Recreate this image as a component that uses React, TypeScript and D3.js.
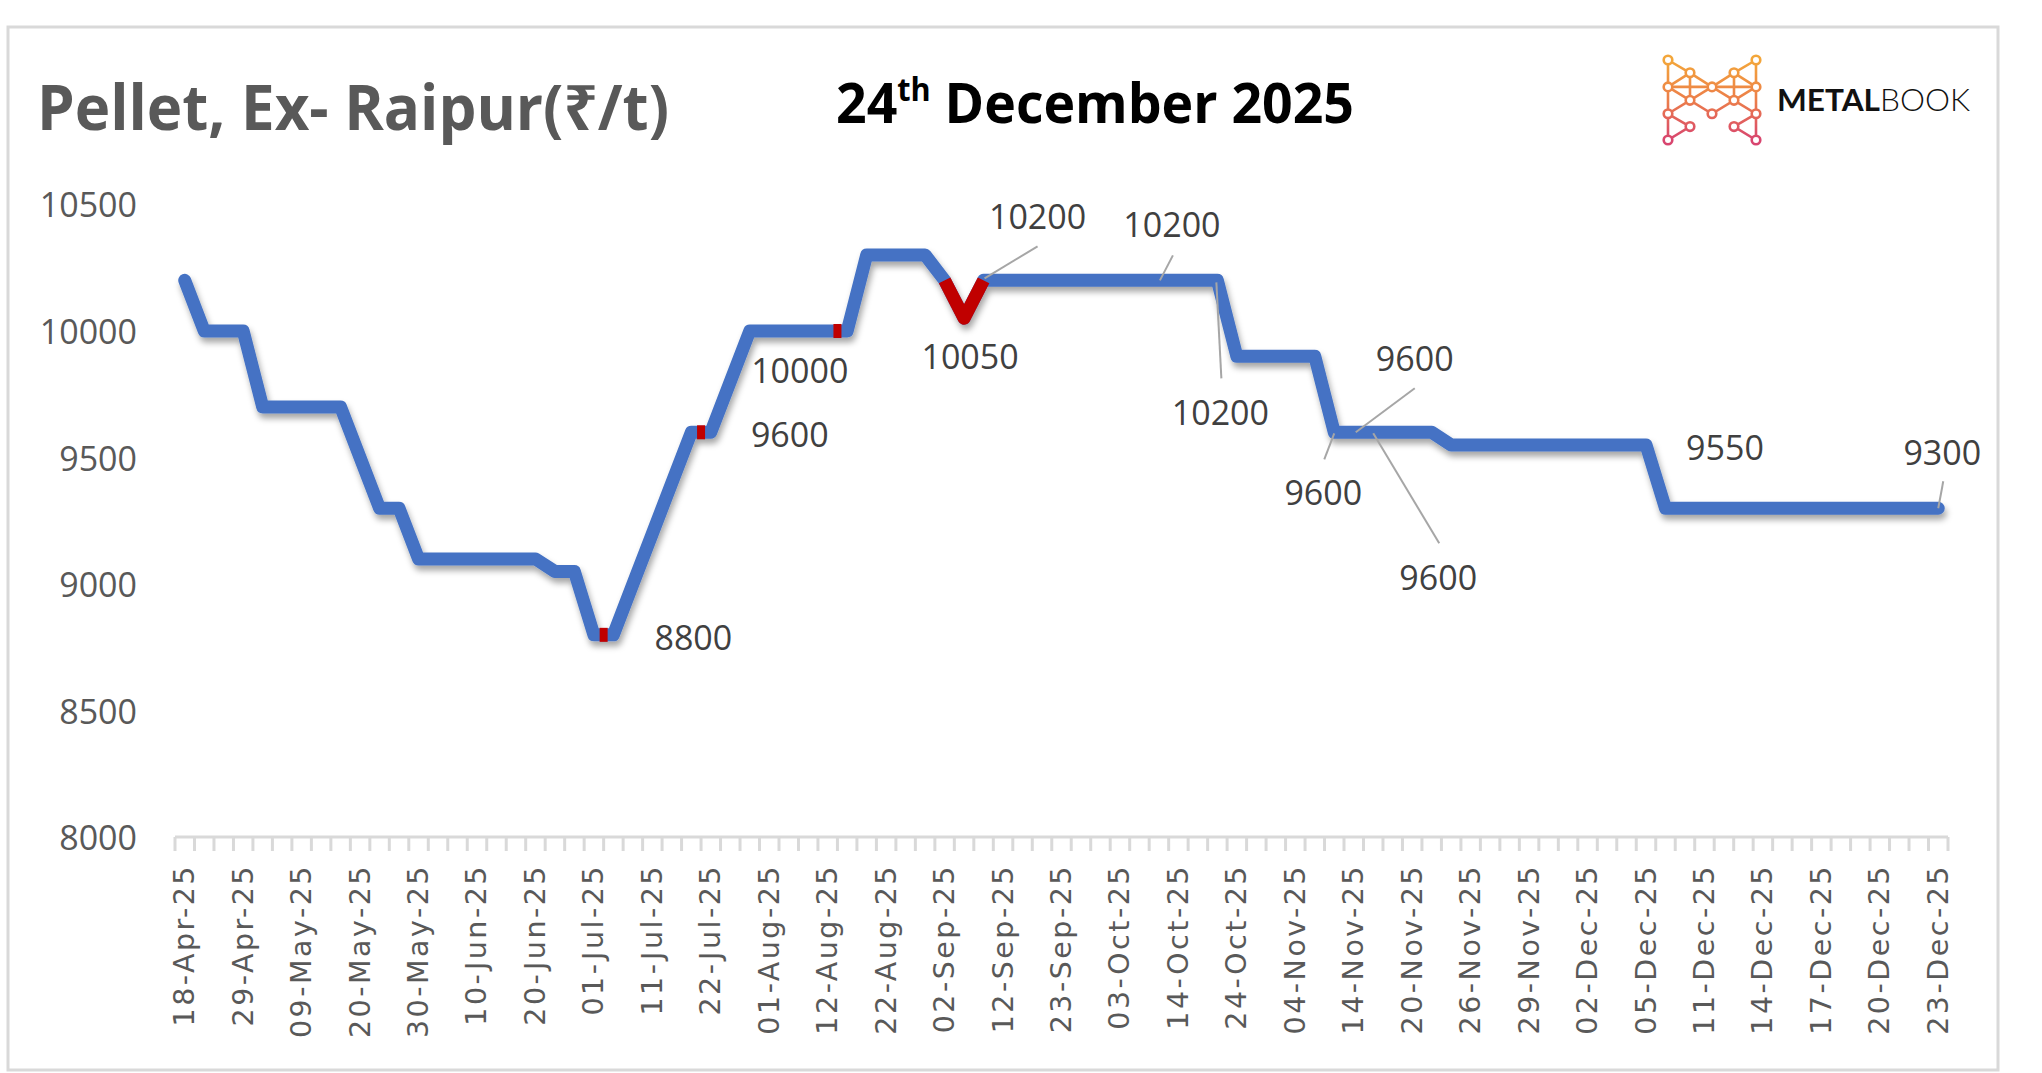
import React from "react";
import * as d3 from "d3";

const tickLabels = [
  "18-Apr-25","29-Apr-25","09-May-25","20-May-25","30-May-25","10-Jun-25","20-Jun-25",
  "01-Jul-25","11-Jul-25","22-Jul-25","01-Aug-25","12-Aug-25","22-Aug-25","02-Sep-25",
  "12-Sep-25","23-Sep-25","03-Oct-25","14-Oct-25","24-Oct-25","04-Nov-25","14-Nov-25",
  "20-Nov-25","26-Nov-25","29-Nov-25","02-Dec-25","05-Dec-25","11-Dec-25","14-Dec-25",
  "17-Dec-25","20-Dec-25","23-Dec-25",
];

const prices = [
  10200,
  10000, 10000, 10000,
  9700, 9700, 9700, 9700, 9700,
  9500,
  9300, 9300,
  9100, 9100, 9100, 9100, 9100, 9100, 9100,
  9050, 9050,
  8800, 8800,
  9000, 9200, 9400,
  9600, 9600,
  9800,
  10000, 10000, 10000, 10000, 10000, 10000,
  10300, 10300, 10300, 10300,
  10200,
  10050,
  10200, 10200, 10200, 10200, 10200, 10200, 10200, 10200, 10200, 10200, 10200, 10200, 10200,
  9900, 9900, 9900, 9900, 9900,
  9600, 9600, 9600, 9600, 9600, 9600,
  9550, 9550, 9550, 9550, 9550, 9550, 9550, 9550, 9550, 9550, 9550,
  9300, 9300, 9300, 9300, 9300, 9300, 9300, 9300, 9300, 9300, 9300, 9300, 9300, 9300, 9300,
];

const yTicks = [8000, 8500, 9000, 9500, 10000, 10500];

// highlighted (red) segment and small red marks (pairs of category indices)
const redSegment = [39, 40, 41];
const redMarks: [number, number][] = [[21, 22], [26, 27], [33, 34]];

// data labels: category index, offset of label centre, optional leader (relative to point)
const labels = [
  { i: 22, dx: 80, dy: 2 },
  { i: 27, dx: 79, dy: 2 },
  { i: 29, dx: 50, dy: 39 },
  { i: 40, dx: 6, dy: 38 },
  { i: 41, dx: 54, dy: -64, leader: [1, -2, 54, -34] },
  { i: 50, dx: 13, dy: -56, leader: [1, 0, 14, -25] },
  { i: 53, dx: 3, dy: 132, leader: [-1, 2, 4, 98] },
  { i: 60, dx: 61, dy: -74, leader: [2, 0, 61, -44] },
  { i: 59, dx: -11, dy: 60, leader: [0, 1, -10, 27] },
  { i: 61, dx: 65, dy: 145, leader: [0, 1, 66, 111] },
  { i: 75, dx: 79, dy: 2 },
  { i: 90, dx: 4, dy: -56, leader: [0, 0, 5, -27] },
];

// logo lattice nodes (normalised)
const logoNodes: [number, number][] = [
  [0, 0], [0, 0.336], [0, 0.672], [0, 1],
  [0.25, 0.16], [0.25, 0.504], [0.25, 0.832],
  [0.5, 0.336], [0.5, 0.672],
  [0.75, 0.16], [0.75, 0.504], [0.75, 0.832],
  [1, 0], [1, 0.336], [1, 0.672], [1, 1],
];
const logoEdges: [number, number][] = [
  [0, 1], [1, 2], [2, 3], [12, 13], [13, 14], [14, 15],
  [0, 4], [4, 7], [7, 9], [9, 12],
  [1, 4], [4, 5], [1, 5], [5, 7], [1, 7], [7, 13], [7, 10], [10, 13], [9, 10], [9, 13],
  [5, 8], [8, 10], [2, 5], [10, 14],
  [2, 6], [6, 3], [14, 11], [11, 15],
];

const W = 2042;
const H = 1073;

export default function App() {
  const x = d3.scaleBand<number>().domain(d3.range(prices.length)).range([175, 1948]).padding(0);
  const cx = (i: number) => (x(Math.floor(i)) as number) + x.bandwidth() * (0.5 + (i - Math.floor(i)));
  const y = d3.scaleLinear().domain([8000, 10500]).range([837.4, 204.4]);

  const line = d3.line<number>().x((_, i) => cx(i)).y((d) => y(d));
  const redLine = d3.line<number>().x((i) => cx(i)).y((i) => y(prices[i]));

  const tickXs = d3.range(prices.length + 1).map((k) => 175 + k * x.bandwidth());

  const lx0 = 1668, ly0 = 60, lw = 88, lh = 80;
  const ln = logoNodes.map(([a, b]) => [lx0 + a * lw, ly0 + b * lh]);

  return (
    <svg width={W} height={H} style={{ position: "absolute", left: 0, top: 0, background: "#fff" }}>
      <defs>
        <filter id="shadow" x="-5%" y="-10%" width="110%" height="130%">
          <feDropShadow dx="2" dy="5" stdDeviation="3" floodColor="#000" floodOpacity="0.35" />
        </filter>
        <linearGradient id="logoGrad" gradientUnits="userSpaceOnUse" x1="0" y1={ly0} x2="0" y2={ly0 + lh}>
          <stop offset="0" stopColor="#F3A63A" />
          <stop offset="0.5" stopColor="#EC7E4A" />
          <stop offset="1" stopColor="#D8456F" />
        </linearGradient>
      </defs>
      <rect x={8} y={27} width={1990} height={1043} fill="#fff" stroke="#D9D9D9" strokeWidth={3} />

      {/* Titles */}
      <text x={37} y={130} fontFamily="'Open Sans','Noto Sans','DejaVu Sans',sans-serif" fontWeight={700}
        fontSize={63} fill="#595959" textLength={632} lengthAdjust="spacingAndGlyphs">
        Pellet, Ex- Raipur(₹/t)
      </text>
      <text x={836} y={123} fontFamily="'Open Sans','Noto Sans',sans-serif" fontWeight={700}
        fontSize={56} fill="#000" textLength={518} lengthAdjust="spacingAndGlyphs">
        24<tspan fontSize={32} dy={-22}>th</tspan><tspan dy={22}> December 2025</tspan>
      </text>

      {/* Logo */}
      <g stroke="url(#logoGrad)" strokeWidth={2.6} fill="none">
        {logoEdges.map(([a, b], k) => (
          <line key={k} x1={ln[a][0]} y1={ln[a][1]} x2={ln[b][0]} y2={ln[b][1]} />
        ))}
        {ln.map(([px, py], k) => (
          <circle key={k} cx={px} cy={py} r={4.3} fill="#fff" />
        ))}
      </g>
      <text x={1777} y={111} fontFamily="Lato,'Open Sans',sans-serif" fontSize={31} fill="#111"
        textLength={193} lengthAdjust="spacingAndGlyphs">
        <tspan fontWeight={700}>METAL</tspan><tspan fontWeight={300}>BOOK</tspan>
      </text>

      {/* Y axis labels */}
      {yTicks.map((t) => (
        <text key={t} x={137} y={y(t)} textAnchor="end" dominantBaseline="central"
          fontFamily="'Open Sans','Noto Sans',sans-serif" fontSize={34} fill="#595959">
          {t}
        </text>
      ))}

      {/* X axis */}
      <line x1={175} x2={1948} y1={837} y2={837} stroke="#D9D9D9" strokeWidth={3} />
      {tickXs.map((tx, k) => (
        <line key={k} x1={tx} x2={tx} y1={837} y2={851} stroke="#D9D9D9" strokeWidth={3} />
      ))}
      {tickLabels.map((lab, k) => {
        const px = cx(k * 3);
        const py = 864;
        return (
          <text key={lab} x={px} y={py} transform={`rotate(-90 ${px} ${py})`} textAnchor="end"
            dominantBaseline="central" fontFamily="'DejaVu Sans',sans-serif" fontSize={28.5}
            letterSpacing={2.5} fill="#595959">
            {lab}
          </text>
        );
      })}

      {/* Line */}
      <g filter="url(#shadow)">
        <path d={line(prices) || ""} fill="none" stroke="#4472C4" strokeWidth={13}
          strokeLinejoin="round" strokeLinecap="round" />
        <path d={redLine(redSegment) || ""} fill="none" stroke="#C00000" strokeWidth={13}
          strokeLinejoin="round" strokeLinecap="butt" />
      </g>
      {redMarks.map(([a, b], k) => {
        const mx = (cx(a) + cx(b)) / 2;
        return <rect key={k} x={mx - 4} y={y(prices[a]) - 7} width={8} height={14} fill="#C00000" />;
      })}

      {/* Data labels */}
      {labels.map((l, k) => {
        const px = cx(l.i);
        const py = y(prices[l.i]);
        return (
          <g key={k}>
            {l.leader && (
              <line x1={px + l.leader[0]} y1={py + l.leader[1]} x2={px + l.leader[2]} y2={py + l.leader[3]}
                stroke="#A6A6A6" strokeWidth={2} />
            )}
            <text x={px + l.dx} y={py + l.dy} textAnchor="middle" dominantBaseline="central"
              fontFamily="'Open Sans','Noto Sans',sans-serif" fontSize={34} fill="#404040">
              {prices[l.i]}
            </text>
          </g>
        );
      })}
    </svg>
  );
}
